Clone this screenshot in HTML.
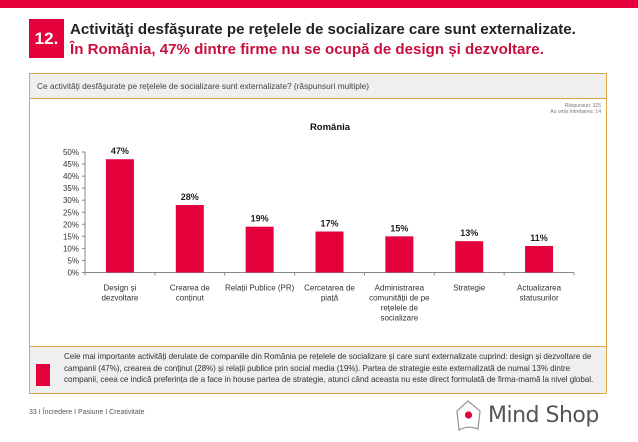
<!DOCTYPE html>
<html><head><meta charset="utf-8"><style>
body{margin:0;width:638px;height:442px;background:#fff;position:relative;overflow:hidden;font-family:"Liberation Sans",sans-serif}
.abs{position:absolute}
</style></head><body>
<div class="abs" style="left:0;top:0;width:638px;height:8px;background:#e4003a"></div>
<div class="abs" style="left:29px;top:19px;width:35px;height:39px;background:#e4003a;color:#fff;font-weight:bold;font-size:17px;line-height:39px;text-align:center">12.</div>
<div class="abs" style="left:70px;top:20px;font-size:15.1px;font-weight:bold;line-height:20px;color:#222;white-space:nowrap">Activităţi desfăşurate pe reţelele de socializare care sunt externalizate.<br><span style="color:#c8103e">În România, 47% dintre firme nu se ocupă de design și dezvoltare.</span></div>
<div class="abs" style="left:29px;top:73px;width:576px;height:319px;border:1px solid #dba64a"></div>
<div class="abs" style="left:30px;top:74px;width:576px;height:25px;background:#efefef;border-bottom:1px solid #dba64a;font-size:8.3px;color:#444;line-height:25px;padding-left:7px;box-sizing:border-box">Ce activităţi desfăşurate pe reţelele de socializare sunt externalizate? (răspunsuri multiple)</div>
<div class="abs" style="left:480px;top:103px;width:121px;text-align:right;font-size:5px;color:#777;line-height:6px">Răspunsuri: 325<br>Au omis întrebarea: 14</div>
<svg class="abs" style="left:0;top:0" width="638" height="442" id="chart"></svg>
<div class="abs" style="left:30px;top:346px;width:576px;height:46px;background:#efefef;border-top:1px solid #dba64a"></div>
<div class="abs" style="left:36px;top:364px;width:14px;height:22px;background:#e4003a"></div>
<div class="abs" style="left:64px;top:351px;font-size:8.1px;line-height:11.5px;color:#333;white-space:nowrap;letter-spacing:-0.05px">Cele mai importante activități derulate de companiile din România pe rețelele de socializare și care sunt externalizate cuprind: design și dezvoltare de<br>campanii (47%), crearea de conținut (28%) și relații publice prin social media (19%). Partea de strategie este externalizată de numai 13% dintre<br>companii, ceea ce indică preferința de a face in house partea de strategie, atunci când aceasta nu este direct formulată de firma-mamă la nivel global.</div>
<div class="abs" style="left:29px;top:409px;font-size:7px;color:#555">33 I Încredere I Pasiune I Creativitate</div>
<svg class="abs" style="left:454px;top:399px" width="30" height="34"><path d="M14 2 L26 12 L24 30 Q14 26 5 31 L3 12 Z" fill="#fff" stroke="#999" stroke-width="1.3"/><circle cx="14.5" cy="16" r="3.6" fill="#e4003a"/></svg>
<div class="abs" style="left:488px;top:403px;font-size:22px;color:#555;font-family:'DejaVu Sans',sans-serif;white-space:nowrap;letter-spacing:-0.5px">Mind Shop</div>
<script>
const categories=[["Design și","dezvoltare"],["Crearea de","conținut"],["Relații Publice (PR)"],["Cercetarea de","piață"],["Administrarea","comunității de pe","rețelele de","socializare"],["Strategie"],["Actualizarea","statusurilor"]];
const values=[47,28,19,17,15,13,11];
const ticks=[0,5,10,15,20,25,30,35,40,45,50];
const svg=document.getElementById('chart');
const NS='http://www.w3.org/2000/svg';
const x0=85,x1=574,y0=272.5,yTop=152,maxV=50;
const bw=(x1-x0)/categories.length;
const y=v=>y0-(v/maxV)*(y0-yTop);
function mk(t,a,txt){const e=document.createElementNS(NS,t);for(const k in a)e.setAttribute(k,a[k]);if(txt!==undefined)e.textContent=txt;svg.appendChild(e);return e;}
const title=mk('text',{x:330,y:130,'text-anchor':'middle','font-size':9.5,'font-weight':'bold',fill:'#111'},'România');


const ax=mk('line',{x1:x0,y1:yTop,x2:x0,y2:y0,stroke:'#888','stroke-width':1});


const bx=mk('line',{x1:x0,y1:y0,x2:x1,y2:y0,stroke:'#888','stroke-width':1});


ticks.forEach(t=>{
 mk('line',{x1:x0-3,y1:y(t),x2:x0,y2:y(t),stroke:'#888'});
 const l=mk('text',{x:x0-6,y:y(t)+3,'text-anchor':'end','font-size':8,fill:'#333'},t+'%');
 
 
});
for(let i=0;i<=categories.length;i++)mk('line',{x1:x0+i*bw,y1:y0,x2:x0+i*bw,y2:y0+3,stroke:'#888'});
values.forEach((v,i)=>{
 const cx=x0+bw*(i+0.5);
 const r=mk('rect',{x:cx-14,y:y(v),width:28,height:y0-y(v),fill:'#e4003a'});
 
 
 const t=mk('text',{x:cx,y:y(v)-5,'text-anchor':'middle','font-size':9,'font-weight':'bold',fill:'#222'},v+'%');
 
 
 categories[i].forEach((ln,j)=>{
  const c=mk('text',{x:cx,y:y0+18+j*10,'text-anchor':'middle','font-size':8,fill:'#333'},ln);
  
  
 });
});
</script>
</body></html>
